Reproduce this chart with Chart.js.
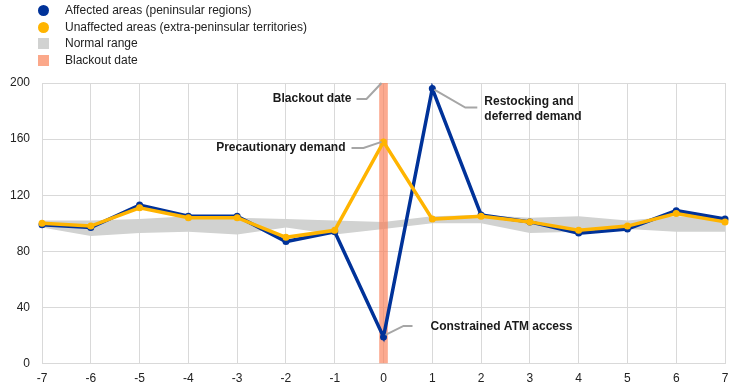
<!DOCTYPE html>
<html>
<head>
<meta charset="utf-8">
<script src="https://cdn.jsdelivr.net/npm/chart.js@4.4.1/dist/chart.umd.min.js"></script>
<style>
  body { margin: 0; background: #fff; font-family: "Liberation Sans", Arial, sans-serif; }
  #wrap { position: relative; width: 744px; height: 390px; }
  #legend { position: absolute; left: 38px; top: 2px; font-size: 12px; color: #222; }
  #legend div { height: 16.5px; line-height: 16.5px; position: relative; padding-left: 27px; white-space: nowrap; }
  #legend span { position: absolute; left: 0; top: 3px; width: 11px; height: 11px; }
  #legend span.dot { border-radius: 50%; }
</style>
</head>
<body>
<div id="wrap">
  <canvas id="chart" width="744" height="390"></canvas>
  <div id="legend"></div>
</div>
<script>
// days relative to the blackout
const days = ['-7', '-6', '-5', '-4', '-3', '-2', '-1', '0', '1', '2', '3', '4', '5', '6', '7'];

// index values (normal days = 100)
const affected   = [99, 97, 113, 105, 105, 87, 94, 19, 196, 106, 101, 93, 96, 109, 103];
const unaffected = [100, 98, 111, 104, 104, 90, 95, 158, 103, 105, 101, 95, 98, 107, 101];

// normal range band
const rangeHigh = [102, 102, 103, 105, 104, 103, 102, 101, 105, 106, 104, 105, 102, 105, 104];
const rangeLow  = [97, 91, 93, 94, 92, 97, 92, 96, 100, 100, 93, 94, 96, 94, 94];

// blackout marker
const blackout = [null, null, null, null, null, null, null, 200, null, null, null, null, null, null, null];

const blue = '#003299';
const yellow = '#FFB400';
const grey = '#D1D2D1';
const salmon = 'rgba(250, 125, 85, 0.65)';

const legendItems = [
    { label: 'Affected areas (peninsular regions)', color: blue, dot: true },
    { label: 'Unaffected areas (extra-peninsular territories)', color: yellow, dot: true },
    { label: 'Normal range', color: grey, dot: false },
    { label: 'Blackout date', color: '#FBA88A', dot: false }
];
const legend = document.getElementById('legend');
legendItems.forEach(item => {
    const row = document.createElement('div');
    const box = document.createElement('span');
    if (item.dot) box.className = 'dot';
    box.style.background = item.color;
    row.appendChild(box);
    row.appendChild(document.createTextNode(item.label));
    legend.appendChild(row);
});

// callouts: anchor on a data point, leader path as pixel offsets from it
const callouts = [
    { lines: ['Blackout date'], index: 7, value: () => 200, path: [[-2, 0], [-17, 16], [-27, 16]], text: [-32, 16], align: 'right' },
    { lines: ['Precautionary demand'], index: 7, value: () => unaffected[7], path: [[-2, 0], [-20, 6], [-32, 6]], text: [-38, 6], align: 'right' },
    { lines: ['Restocking and', 'deferred demand'], index: 8, value: () => affected[8], path: [[2, 1], [33, 19], [45, 19]], text: [52, 13], align: 'left' },
    { lines: ['Constrained ATM access'], index: 7, value: () => affected[7], path: [[2, -2], [20, -11], [29, -11]], text: [47, -10], align: 'left' }
];

const calloutPlugin = {
    id: 'callouts',
    afterDatasetsDraw(chart) {
        const ctx = chart.ctx;
        const xs = chart.scales.x, ys = chart.scales.y;
        ctx.save();
        callouts.forEach(c => {
            const ax = xs.getPixelForValue(c.index);
            const ay = ys.getPixelForValue(c.value());
            ctx.strokeStyle = '#A6A6A6';
            ctx.lineWidth = 2;
            ctx.beginPath();
            c.path.forEach((p, i) => {
                if (i === 0) ctx.moveTo(ax + p[0], ay + p[1]);
                else ctx.lineTo(ax + p[0], ay + p[1]);
            });
            ctx.stroke();
            ctx.fillStyle = '#1a1a1a';
            ctx.font = 'bold 12px "Liberation Sans", Arial, sans-serif';
            ctx.textAlign = c.align;
            ctx.textBaseline = 'middle';
            c.lines.forEach((t, i) => {
                ctx.fillText(t, ax + c.text[0], ay + c.text[1] + i * 15);
            });
        });
        ctx.restore();
    }
};

const ctx = document.getElementById('chart').getContext('2d');
const chart = new Chart(ctx, {
    type: 'line',
    data: {
        labels: days,
        datasets: [
            {
                label: 'Unaffected areas (extra-peninsular territories)',
                data: unaffected,
                borderColor: yellow,
                backgroundColor: yellow,
                borderWidth: 3.5,
                pointRadius: 3.5,
                pointBorderWidth: 0,
                tension: 0,
                order: 0
            },
            {
                label: 'Affected areas (peninsular regions)',
                data: affected,
                borderColor: blue,
                backgroundColor: blue,
                borderWidth: 3.5,
                pointRadius: 3.5,
                pointBorderWidth: 0,
                tension: 0,
                order: 1
            },
            {
                type: 'bar',
                label: 'Blackout date',
                data: blackout,
                backgroundColor: salmon,
                barThickness: 8,
                order: 2
            },
            {
                label: 'Normal range high',
                data: rangeHigh,
                borderWidth: 0,
                pointRadius: 0,
                backgroundColor: grey,
                fill: '+1',
                order: 3
            },
            {
                label: 'Normal range low',
                data: rangeLow,
                borderWidth: 0,
                pointRadius: 0,
                backgroundColor: grey,
                fill: false,
                order: 4
            }
        ]
    },
    options: {
        responsive: false,
        animation: false,
        layout: { padding: { top: 83, left: -2, right: 19, bottom: -4 } },
        plugins: {
            legend: { display: false },
            tooltip: { enabled: false }
        },
        scales: {
            x: {
                offset: false,
                grid: { color: '#D9D9D9', lineWidth: 1, drawTicks: false, offset: false },
                border: { display: false },
                ticks: { color: '#222', padding: 8, font: { family: 'Liberation Sans', size: 12 }, maxRotation: 0 }
            },
            y: {
                min: 0,
                max: 200,
                grid: { color: '#D9D9D9', lineWidth: 1, drawTicks: false },
                border: { display: false },
                ticks: { stepSize: 40, color: '#222', padding: 12, font: { family: 'Liberation Sans', size: 12 } }
            }
        }
    },
    plugins: [calloutPlugin]
});
</script>
</body>
</html>
